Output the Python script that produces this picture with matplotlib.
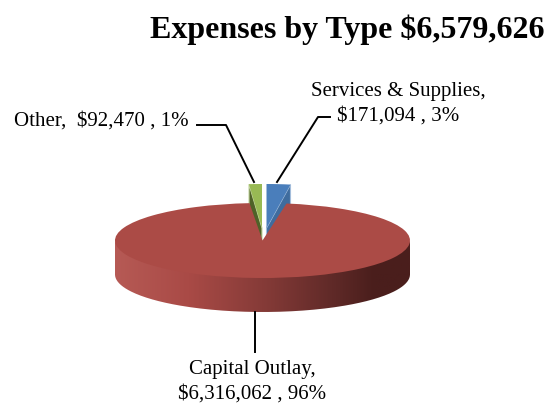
import numpy as np
import matplotlib
matplotlib.use("Agg")
import matplotlib.pyplot as plt
from matplotlib.colors import LinearSegmentedColormap
from matplotlib.patches import PathPatch, Polygon
from matplotlib.path import Path
from matplotlib.transforms import Affine2D

plt.rcParams["font.family"] = ["Liberation Serif", "DejaVu Serif"]

categories = ["Services & Supplies", "Capital Outlay", "Other"]
values = [171094, 6316062, 92470]
colors = ["#4a7ebb", "#ab4b46", "#98b954"]
side_colors = ["#3f6c9e", "#ab4b46", "#4f6228"]
edge_colors = ["#a3bddb", "none", "#c5d6a2"]
title = "Expenses by Type $6,579,626"
labels = ["Services & Supplies,\n$171,094 , 3%", "Capital Outlay,\n$6,316,062 , 96%", "Other,  $92,470 , 1%"]

fig = plt.figure(figsize=(5.5, 4.07), dpi=100)
ax = fig.add_axes([0, 0, 1, 1])

# pie is drawn flat, then every wedge is squashed to look 3d
wedges, _ = ax.pie(values, colors=colors, startangle=90, counterclock=False, radius=147.5)
ax.set_aspect("auto")
ax.axis("off")

cx, cy = 262.5, 240.5
squash = 37.5 / 147.5
depth = 34
lift_squash = 44 / 147.5
centers = {0: (266.5, 228), 1: (cx, cy), 2: (262, 228)}
wall = 25


def wedge_pts(w, c, sq, n=30):
    a = np.radians(np.linspace(w.theta1, w.theta2, n))
    return c[0] + w.r * np.cos(a), c[1] - w.r * sq * np.sin(a)


# side rim of the big slice, shaded left to right
t = np.linspace(np.pi, 2 * np.pi, 200)
rim_x = cx + 147.5 * np.cos(t)
rim_y = cy - 37.5 * np.sin(t)
verts = np.r_[np.c_[rim_x, rim_y + depth], np.c_[rim_x[::-1], rim_y[::-1] - 2]]
rim = PathPatch(Path(verts), fc="none", ec="none", zorder=1)
ax.add_patch(rim)
cmap = LinearSegmentedColormap.from_list(
    "rim", [(0, "#b65a55"), (0.25, "#a94a46"), (0.5, "#863b38"), (0.75, "#5e2927"), (0.88, "#4a1e1c"), (1, "#4a1e1c")])
im = ax.imshow(np.linspace(0, 1, 256).reshape(1, -1), cmap=cmap, aspect="auto",
               extent=(cx - 147.5, cx + 147.5, cy + depth + 40, cy - 5), zorder=1)
im.set_clip_path(rim)
ax.set_xlim(0, 550)
ax.set_ylim(407, 0)

# pulled out slices: wall then top face
for i in (0, 2):
    w = wedges[i]
    c = centers[i]
    x, y = wedge_pts(w, c, lift_squash)
    outer = (x[0], y[0]) if i == 0 else (x[-1], y[-1])
    ax.add_patch(Polygon([c, outer, (outer[0], outer[1] + wall), (c[0], c[1] + wall)],
                         fc=side_colors[i], ec=edge_colors[i], lw=0.8, zorder=2))
    w.set_transform(Affine2D().scale(1, -lift_squash).translate(*c) + ax.transData)
    w.set_zorder(3)
    w.set_edgecolor("none")

# big slice goes over the walls so they look sunk in the notch
w = wedges[1]
w.set_transform(Affine2D().scale(1, -squash).translate(cx, cy) + ax.transData)
w.set_zorder(4)
w.set_edgecolor("none")

ax.text(347, 38, title, fontsize=23, fontweight="bold", ha="center", va="baseline")
ax.text(398, 104, labels[0], fontsize=15, ha="center", va="center", linespacing=1.4)
ax.text(101.5, 126, labels[2], fontsize=15, ha="center", va="baseline")
ax.text(252.5, 382, labels[1], fontsize=15, ha="center", va="center", linespacing=1.4)

ax.plot([330, 318, 277], [117, 117, 182], color="black", lw=1.4, zorder=5)
ax.plot([197, 226, 254], [125, 125, 182], color="black", lw=1.4, zorder=5)
ax.plot([255, 255], [312, 352], color="black", lw=1.4, zorder=5)

fig.savefig("out.png", dpi=100)
